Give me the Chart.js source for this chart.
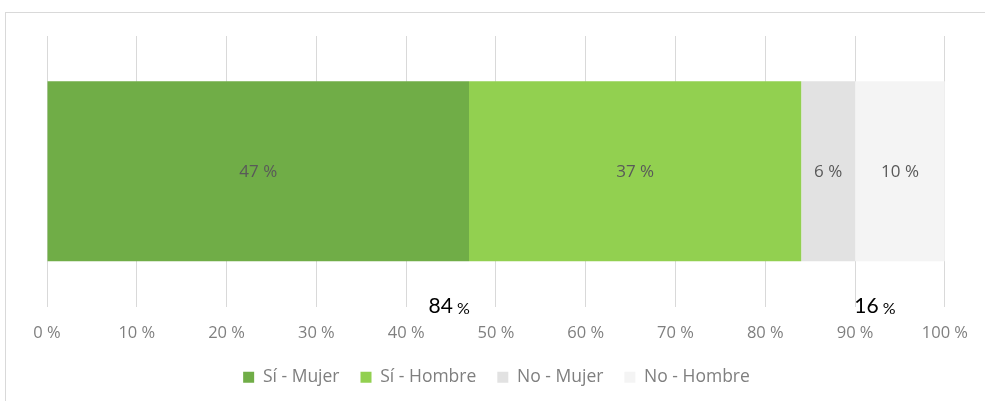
<!DOCTYPE html>
<html>
<head>
<meta charset="utf-8">
<script src="https://cdn.jsdelivr.net/npm/chart.js@4.4.0/dist/chart.umd.min.js"></script>
<style>
  html, body { margin: 0; padding: 0; background: #fff; }
  #caja { position: relative; width: 985px; height: 401px; overflow: hidden; }
  #marco { position: absolute; left: 5px; top: 12px; width: 1200px; height: 600px;
           border-left: 1px solid #d9d9d9; border-top: 1px solid #d9d9d9; }
  canvas { position: absolute; left: 0; top: 0; }
</style>
</head>
<body>
<div id="caja">
  <div id="marco"></div>
  <canvas id="grafico" width="985" height="401"></canvas>
</div>
<script>
// datos del gráfico
const categorias = ['']
const series = ['Sí - Mujer', 'Sí - Hombre', 'No - Mujer', 'No - Hombre']
const valores = [47, 37, 6, 10]
const colores = ['#70ad47', '#92d050', '#e2e2e2', '#f4f4f4']
const ticksX = [0, 10, 20, 30, 40, 50, 60, 70, 80, 90, 100]

// totales (Sí / No) y dónde va cada etiqueta sobre el eje
const totales = ['84', '16']
const posTotales = [44.8, 92.2]

const fuente = '"Open Sans", Lato, sans-serif'
const fuenteTotal = 'Lato, "Open Sans", sans-serif'

let datasets = []
for (let i = 0; i < series.length; i++) {
    datasets.push({
        label: series[i],
        data: [valores[i]],
        backgroundColor: colores[i],
        borderWidth: 0,
        categoryPercentage: 1,
        barPercentage: 0.665
    })
}

// etiquetas de datos dentro de las barras + totales
const etiquetas = {
    id: 'etiquetas',
    afterDatasetsDraw(chart) {
        const ctx = chart.ctx
        ctx.save()
        ctx.textAlign = 'center'
        ctx.textBaseline = 'middle'
        ctx.font = '17px ' + fuente
        ctx.fillStyle = '#595959'
        chart.data.datasets.forEach((ds, i) => {
            const bar = chart.getDatasetMeta(i).data[0]
            const p = bar.getProps(['x', 'y', 'base'], true)
            ctx.fillText(ds.data[0] + ' %', (p.x + p.base) / 2, p.y + 1)
        })

        const sx = chart.scales.x
        const y = chart.chartArea.bottom
        ctx.textAlign = 'left'
        ctx.fillStyle = '#000'
        for (let i = 0; i < totales.length; i++) {
            ctx.font = '21px ' + fuenteTotal
            const w1 = ctx.measureText(totales[i]).width
            ctx.font = '16px ' + fuenteTotal
            const w2 = ctx.measureText(' %').width
            let x = sx.getPixelForValue(posTotales[i]) - (w1 + w2) / 2
            ctx.font = '21px ' + fuenteTotal
            ctx.fillText(totales[i], x, y)
            ctx.font = '16px ' + fuenteTotal
            ctx.fillText(' %', x + w1, y + 2)
        }
        ctx.restore()
    }
}

new Chart(document.getElementById('grafico'), {
    type: 'bar',
    data: { labels: categorias, datasets: datasets },
    options: {
        indexAxis: 'y',
        responsive: false,
        animation: false,
        layout: { padding: { left: 47, right: 39, top: 36, bottom: 5 } },
        scales: {
            x: {
                stacked: true,
                min: 0,
                max: 100,
                afterBuildTicks(scale) {
                    scale.ticks = ticksX.map(v => ({ value: v }))
                },
                afterFit(scale) { scale.height -= 13 },
                grid: { color: '#d9d9d9', drawTicks: false },
                border: { display: false },
                ticks: {
                    padding: 17,
                    color: '#7f7f7f',
                    font: { family: fuente, size: 16.5 },
                    callback: v => v + ' %'
                }
            },
            y: { stacked: true, display: false }
        },
        plugins: {
            legend: {
                position: 'bottom',
                labels: {
                    boxWidth: 11,
                    boxHeight: 11,
                    padding: 21,
                    color: '#7f7f7f',
                    font: { family: fuente, size: 17.5 }
                }
            },
            tooltip: { enabled: false }
        }
    },
    plugins: [etiquetas]
})
</script>
</body>
</html>
